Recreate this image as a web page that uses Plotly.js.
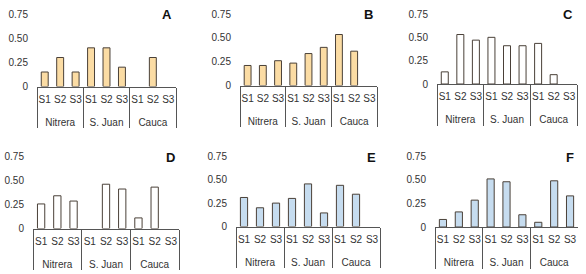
<!DOCTYPE html>
<html><head><meta charset="utf-8">
<script src="https://cdn.plot.ly/plotly-3.0.1.min.js"></script>
<style>html,body{margin:0;padding:0;background:#fff}#chart{width:586px;height:274px}</style>
</head><body><div id="chart"></div>
<script>
const sites = ["Nitrera","Nitrera","Nitrera","S. Juan","S. Juan","S. Juan","Cauca","Cauca","Cauca"];
const stations = ["S1","S2","S3","S1","S2","S3","S1","S2","S3"];
const panelLabels = ["A","B","C","D","E","F"];
const valuesA = [0.15,0.30,0.15, 0.40,0.40,0.20, null,0.30,null];
const valuesB = [0.21,0.21,0.26, 0.235,0.335,0.40, 0.535,0.36,null];
const valuesC = [0.13,0.53,0.47, 0.50,0.41,0.41, 0.435,0.10,null];
const valuesD = [0.255,0.34,0.285, null,0.46,0.41, 0.11,0.43,null];
const valuesE = [0.31,0.20,0.25, 0.30,0.455,0.145, 0.44,0.345,null];
const valuesF = [0.08,0.16,0.285, 0.51,0.48,0.13, 0.05,0.49,0.33];
const yTickVals = [0,0.25,0.5,0.75];
const yTickText = ["0","0.25","0.50","0.75"];

const W=586,H=274;
const allValues=[valuesA,valuesB,valuesC,valuesD,valuesE,valuesF];
const fills=["#fbdca4","#fbdca4","#ffffff","#ffffff","#c6dcef","#c6dcef"];
// pixel boxes [x0,x1,yBase,yTop]
const boxes=[[37,176,86.5,14],[240,377,85.5,14],[437,577,84,14],[33,179,228.5,156.3],[236,380,226.5,156.3],[435,578,227,156.3]];
const font="Liberation Sans, Arial, sans-serif";
// sub-level labels carry an empty second line so the site labels sit lower, as in the reference
const stationLabels = stations.map(s=>s+"<br> ");
const data=[];const layout={width:W,height:H,margin:{l:0,r:0,t:0,b:0},showlegend:false,
  paper_bgcolor:"#fff",plot_bgcolor:"rgba(0,0,0,0)",font:{family:font,size:10,color:"#333"},annotations:[],bargap:0.55};
allValues.forEach((vals,i)=>{
  const k=i===0?"":String(i+1);
  data.push({type:"bar",x:[sites,stationLabels],y:vals,xaxis:"x"+k,yaxis:"y"+k,
    marker:{color:fills[i],line:{color:"#4a4038",width:1}},hoverinfo:"none"});
  const b=boxes[i];
  layout["xaxis"+k]={domain:[b[0]/W,b[1]/W],anchor:"y"+k,type:"multicategory",showline:true,linecolor:"#555",linewidth:1,
    ticks:"",tickangle:0,ticklabelstandoff:3,showgrid:false,zeroline:false,showdividers:true,dividercolor:"#555",dividerwidth:1,
    tickfont:{size:10,color:"#333"},fixedrange:true};
  layout["yaxis"+k]={domain:[1-b[2]/H,1-b[3]/H],anchor:"x"+k,range:[0,0.75],tickvals:yTickVals,ticktext:yTickText,
    showline:false,showgrid:false,zeroline:false,ticks:"",ticklabelstandoff:8,tickfont:{size:10,color:"#333"},fixedrange:true};
  layout.annotations.push({text:"<b>"+panelLabels[i]+"</b>",xref:"paper",yref:"paper",x:(b[1]-2)/W,y:1-(b[3]+1)/H,
    xanchor:"right",yanchor:"middle",showarrow:false,font:{size:13,color:"#111",family:font}});
});
Plotly.newPlot("chart",data,layout,{staticPlot:true});
</script></body></html>
